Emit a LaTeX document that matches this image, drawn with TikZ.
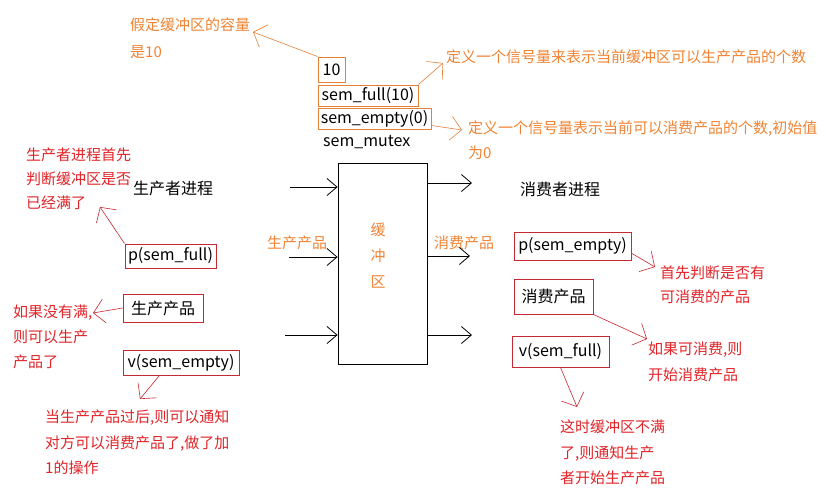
\documentclass[tikz,border=0pt]{standalone}
\usepackage{fontspec}
\setmainfont{Noto Sans CJK SC}
\usepackage{tikz}
\usetikzlibrary{arrows.meta}
\definecolor{NoteRed}{RGB}{226,36,40}
\definecolor{BoxRed}{RGB}{200,40,50}
\definecolor{NoteOrange}{RGB}{240,132,52}
\definecolor{BoxOrange}{RGB}{228,128,56}

\tikzset{
  plain/.style={inner sep=0pt, anchor=west, font=\fontsize{16}{16}\selectfont},
  note/.style={inner sep=0pt, anchor=west, align=left, font=\fontsize{15}{25}\selectfont},
  rednote/.style={note, text=NoteRed},
  orangenote/.style={note, text=NoteOrange},
  semred/.style={draw=BoxRed, line width=1pt, inner sep=0pt, font=\fontsize{16}{16}\selectfont},
  semorange/.style={draw=BoxOrange, line width=1pt, inner sep=0pt, font=\fontsize{16}{16}\selectfont},
  flow/.style={line width=0.8pt, -{Straight Barb[length=10pt,width=17pt]}},
  hint/.style={line width=0.6pt, -{Straight Barb[length=11pt,width=24pt]}},
}

\begin{document}
\begin{tikzpicture}[x=1pt, y=-1pt]
  \useasboundingbox[fill=white] (0,0) rectangle (826,498);

  % semaphores at the top
  \node[semorange, minimum width=27pt, minimum height=25pt] (n10) at (331.5,69.5) {10};
  \node[semorange, minimum width=100pt, minimum height=21pt] (semfull) at (368,95.5) {sem\_full(10)};
  \node[semorange, minimum width=113pt, minimum height=21pt] (semempty) at (374.5,118.5) {sem\_empty(0)};
  \node[plain] (semmutex) at (323,142) {sem\_mutex};

  \node[orangenote, font=\fontsize{15}{27}\selectfont] (capnote) at (130,38.5) {假定缓冲区的容量\\是10};
  \node[orangenote] (fullnote) at (446,57) {定义一个信号量来表示当前缓冲区可以生产产品的个数};
  \node[orangenote] (emptynote) at (468,140.5) {定义一个信号量表示当前可以消费产品的个数,初始值\\为0};

  \coordinate (t1) at (253,32);
  \coordinate (t2) at (443,63);
  \coordinate (t3) at (462,130);
  \draw[hint, BoxOrange] (n10.north west) -- (t1);
  \draw[hint, BoxOrange] (semfull.north east) -- (t2);
  \draw[hint, BoxOrange] (semempty.-7) -- (t3);

  % the buffer
  \node[draw, line width=0.8pt, minimum width=89pt, minimum height=201pt] (buffer) at (382.5,263.5) {};
  \node[orangenote, anchor=center, align=center, font=\fontsize{15}{26}\selectfont] (bufname) at (378,256) {缓\\冲\\区};
  \node[orangenote] (prodlabel) at (267,243) {生产产品};
  \node[orangenote] (conslabel) at (434,243) {消费产品};

  \coordinate (in1) at (290,187);
  \coordinate (in2) at (289,257);
  \coordinate (in3) at (285,335);
  \coordinate (out1) at (472,183);
  \coordinate (out2) at (470,256);
  \coordinate (out3) at (472,335);
  \draw[flow] (in1) -- (buffer.west |- in1);
  \draw[flow] (in2) -- (buffer.west |- in2);
  \draw[flow] (in3) -- (buffer.west |- in3);
  \draw[flow] (buffer.east |- out1) -- (out1);
  \draw[flow] (buffer.east |- out2) -- (out2);
  \draw[flow] (buffer.east |- out3) -- (out3);

  % producer side
  \node[plain] (prodtitle) at (133,188) {生产者进程};
  \node[semred, minimum width=91pt, minimum height=24pt] (pfull) at (170.5,256) {p(sem\_full)};
  \node[semred, minimum width=80pt, minimum height=28pt] (produce) at (163,308) {生产产品};
  \node[semred, minimum width=116pt, minimum height=25pt] (vempty) at (181,362.5) {v(sem\_empty)};

  \node[rednote, font=\fontsize{15}{24}\selectfont] (prodcheck) at (26,179) {生产者进程首先\\判断缓冲区是否\\已经满了};
  \node[rednote] (prodnote) at (13,337) {如果没有满,\\则可以生产\\产品了};
  \node[rednote, font=\fontsize{15}{25.5}\selectfont] (vemptynote) at (45,442.5) {当生产产品过后,则可以通知\\对方可以消费产品了,做了加\\1的操作};

  \coordinate (t4) at (100,207);
  \coordinate (t5) at (93,313);
  \coordinate (t6) at (140,399);
  \draw[hint, BoxRed] (pfull.north west) -- (t4);
  \draw[hint, BoxRed] (produce.west) -- (t5);
  \draw[hint, BoxRed] (vempty.-149) -- (t6);

  % consumer side
  \node[plain] (constitle) at (520,189) {消费者进程};
  \node[semred, minimum width=117pt, minimum height=28pt] (pempty) at (572.5,246) {p(sem\_empty)};
  \node[semred, minimum width=79pt, minimum height=35pt] (consume) at (553.5,296.5) {消费产品};
  \node[semred, minimum width=97pt, minimum height=31pt] (vfull) at (560.5,351.5) {v(sem\_full)};

  \node[rednote, font=\fontsize{15}{24}\selectfont] (conscheck) at (660,285) {首先判断是否有\\可消费的产品};
  \node[rednote, font=\fontsize{15}{26}\selectfont] (consnote) at (648,362) {如果可消费,则\\开始消费产品};
  \node[rednote, font=\fontsize{15}{25.5}\selectfont] (vfullnote) at (560,452.5) {这时缓冲区不满\\了,则通知生产\\者开始生产产品};

  \coordinate (t7) at (655,267);
  \coordinate (t8) at (647,339);
  \coordinate (t9) at (577,407);
  \draw[hint, BoxRed] (pempty.-7) -- (t7);
  \draw[hint, BoxRed] (consume.south east) -- (t8);
  \draw[hint, BoxRed] (vfull.south) -- (t9);
\end{tikzpicture}
\end{document}
